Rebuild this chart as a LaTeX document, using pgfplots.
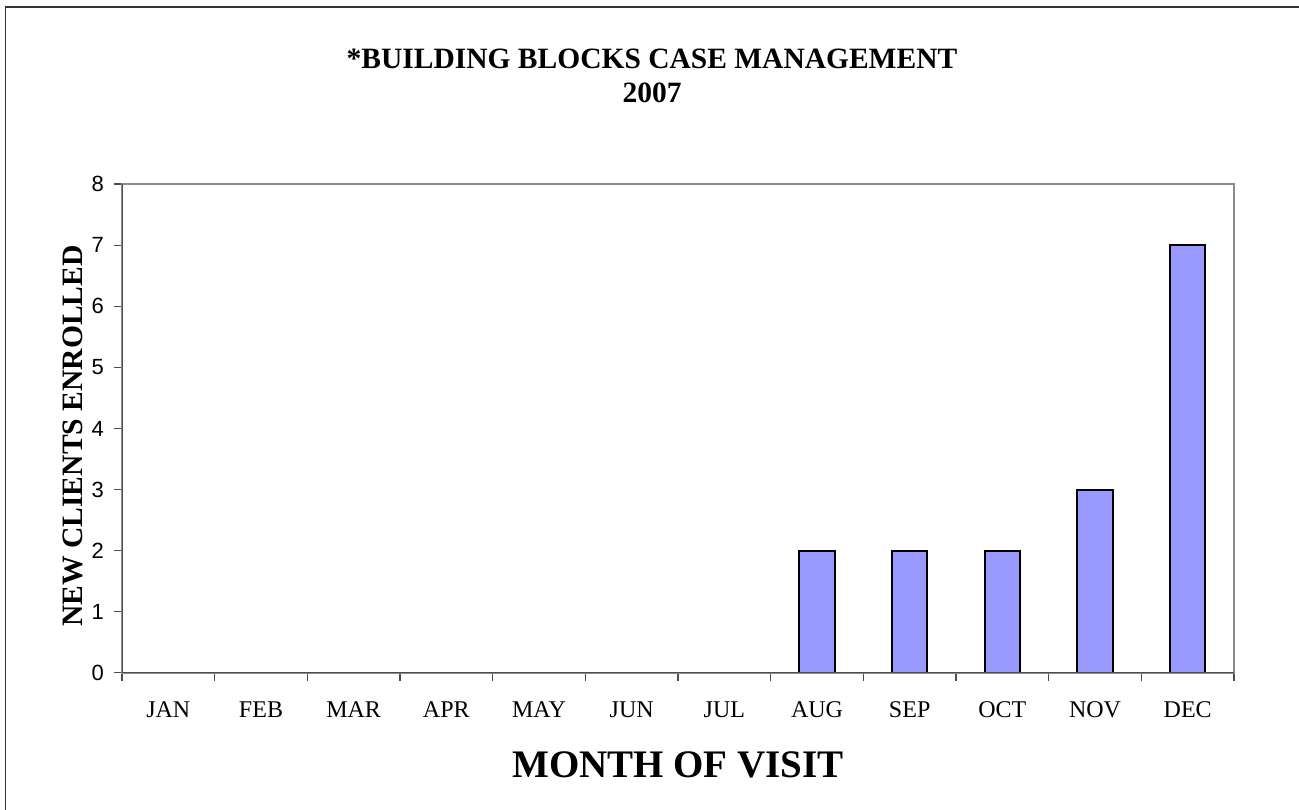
\documentclass[border=0pt]{standalone}
\usepackage{fontspec}
\setmainfont{Liberation Serif}
\setsansfont{Liberation Sans}
\usepackage{pgfplots}
\pgfplotsset{compat=1.18}
\definecolor{barfill}{HTML}{9999FF}
\definecolor{axdark}{HTML}{4D4D4D}
\definecolor{axgray}{HTML}{8C8C8C}
\begin{document}
\begin{tikzpicture}[x=1pt,y=1pt]
\useasboundingbox (0,0) rectangle (1299,810);
\draw[line width=1.5pt, black!80] (5.5,-10) -- (5.5,803) -- (1320,803);
\node[font=\bfseries\fontsize{29.5}{34}\selectfont, anchor=base, inner sep=0pt] at (652,741) {*BUILDING BLOCKS CASE MANAGEMENT};
\node[font=\bfseries\fontsize{29.5}{34}\selectfont, anchor=base, inner sep=0pt] at (652,707) {2007};
\begin{axis}[
  at={(122pt,137.3pt)}, anchor=south west,
  scale only axis, width=1112pt, height=488.5pt,
  xmin=-0.5, xmax=11.5, ymin=0, ymax=8,
  ytick={0,...,8},
  xtick={0,...,11},
  xticklabels={JAN,FEB,MAR,APR,MAY,JUN,JUL,AUG,SEP,OCT,NOV,DEC},
  minor xtick={-0.5,0.5,...,11.5},
  tick pos=left, tick align=outside,
  major tick length=8pt, minor tick length=8pt,
  tick style={axdark, line width=1.5pt},
  major x tick style={draw=none},
  axis line style={axgray, line width=2pt},
  /pgf/number format/assume math mode=true,
  yticklabel style={font=\sffamily\fontsize{22}{26}\selectfont, anchor=east, inner sep=0pt, xshift=-10pt},
  xticklabel style={font=\fontsize{24}{28}\selectfont, anchor=base, inner sep=0pt, yshift=-37.3pt},
  xlabel={MONTH OF VISIT},
  xlabel style={font=\bfseries\fontsize{39}{44}\selectfont, at={(rel axis cs:0.5,0)}, anchor=base, inner sep=0pt, yshift=-105.3pt},
  ylabel={NEW CLIENTS ENROLLED},
  ylabel style={font=\bfseries\fontsize{29.6}{34}\selectfont, at={([xshift=-39.5pt]rel axis cs:0,0.4845)}, anchor=base, inner sep=0pt},
  ybar, bar width=35.5pt,
  unbounded coords=discard,
  y filter/.expression={y==0 ? nan : y},
]
\addplot[draw=black, fill=barfill, line width=2pt] coordinates {
  (0,0) (1,0) (2,0) (3,0) (4,0) (5,0) (6,0) (7,2) (8,2) (9,2) (10,3) (11,7)
};
\draw[axdark, line width=2pt] (rel axis cs:0,1) -- (rel axis cs:0,0) -- (rel axis cs:1,0);
\end{axis}
\end{tikzpicture}
\end{document}
